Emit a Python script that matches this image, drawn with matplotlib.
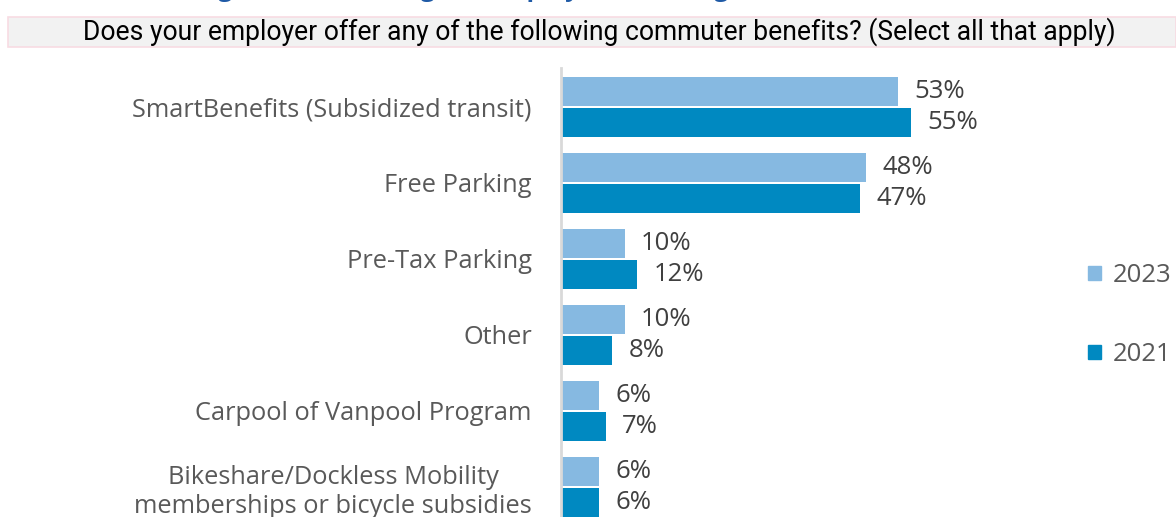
import matplotlib.pyplot as plt
import matplotlib.patches as mpatches
import numpy as np

categories = ['SmartBenefits (Subsidized transit)', 'Free Parking', 'Pre-Tax Parking',
              'Other', 'Carpool of Vanpool Program',
              'Bikeshare/Dockless Mobility\nmemberships or bicycle subsidies']
vals_2023 = [53, 48, 10, 10, 6, 6]
vals_2021 = [55, 47, 12, 8, 7, 6]
series = ['2023', '2021']
colors = ['#86b9e1', '#0089c1']

title = 'Figure 5: Percentage of Employers Offering Commuter Benefits'
subtitle = 'Does your employer offer any of the following commuter benefits? (Select all that apply)'

W, H = 1176, 517
fig = plt.figure(figsize=(W / 100, H / 100), dpi=100)

# title mostly above the canvas, only the descenders show
fig.text(0.50, 1 + 3.5 / H, title, ha='center', va='baseline', fontsize=18,
         fontweight='bold', color='#1f5aa6', family='Open Sans')

# subtitle band
band = mpatches.Rectangle((8 / W, 1 - 47 / H), 1 - 8 / W, 30 / H, transform=fig.transFigure,
                          facecolor='#f2f2f2', edgecolor='#f8dce3', linewidth=1.2)
fig.patches.append(band)
fig.text(599 / W, 1 - 32 / H, subtitle, ha='center', va='center', fontsize=19.1,
         color='black', family='Roboto')

ax = fig.add_axes([561 / W, -8 / H, 515 / W, 457 / H])
y = np.arange(len(categories))
h = 0.38
b1 = ax.barh(y - 0.2, vals_2023, height=h, color=colors[0], label=series[0])
b2 = ax.barh(y + 0.2, vals_2021, height=h, color=colors[1], label=series[1])

for bars in (b1, b2):
    for bar in bars:
        v = bar.get_width()
        ax.text(v + 2.6, bar.get_y() + bar.get_height() / 2, f'{v:.0f}%',
                va='center', ha='left', fontsize=18.5, color='#404040', family='Open Sans')

ax.set_xlim(0, 81)
ax.set_ylim(5.5, -0.513)
ax.set_yticks(y)
ax.set_yticklabels(categories, fontsize=18.3, color='#595959', family='Open Sans',
                   multialignment='center')
ax.tick_params(axis='y', length=0, pad=21)
ax.set_xticks([])
for s in ['top', 'right', 'bottom']:
    ax.spines[s].set_visible(False)
ax.spines['left'].set_color('#d9d9d9')
ax.spines['left'].set_linewidth(2)

handles = [mpatches.Patch(color=c) for c in colors]
fig.legend(handles, series, loc='center left', bbox_to_anchor=(1088 / W, 1 - 315 / H),
           frameon=False, borderpad=0, borderaxespad=0, handlelength=0.5, handleheight=0.5,
           handletextpad=0.45, labelspacing=2.1, labelcolor='#595959',
           prop={'family': 'Open Sans', 'size': 18.5})

fig.savefig('out.png', dpi=100)
